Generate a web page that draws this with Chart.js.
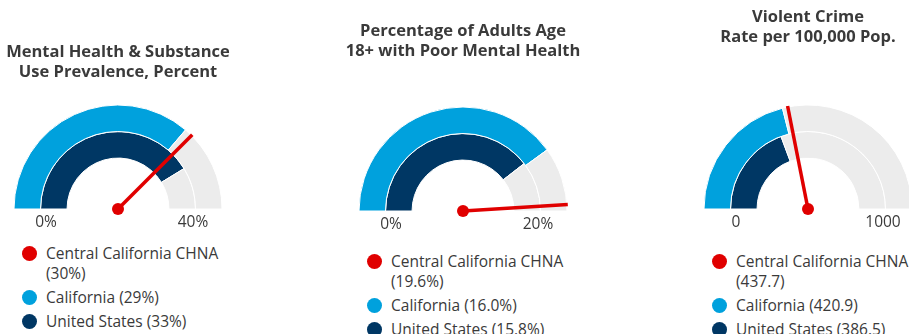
<!DOCTYPE html>
<html>
<head>
<meta charset="utf-8">
<title>Gauges</title>
<script src="https://cdn.jsdelivr.net/npm/chart.js@4.4.1/dist/chart.umd.min.js"></script>
<style>
  body { margin: 0; width: 909px; height: 334px; overflow: hidden; background: #fff; position: relative; font-family: "Open Sans", sans-serif; color: #3a3a3a; }
  .panel { position: absolute; top: 0; width: 300px; }
  .panel canvas { display: block; }
  .legend { position: absolute; left: 54px; width: 215px; margin: 0; padding: 0; list-style: none; font-size: 15.5px; line-height: 20px; }
  .legend li { position: relative; padding-left: 24px; margin-bottom: 4px; width: 180px; }
  .legend .dot { position: absolute; left: -0.5px; top: 2.5px; width: 15px; height: 15px; border-radius: 50%; }
</style>
</head>
<body>
<div class="panel" id="panel-0"><canvas id="gauge-0"></canvas><ul class="legend" id="legend-0"></ul></div>
<div class="panel" id="panel-1"><canvas id="gauge-1"></canvas><ul class="legend" id="legend-1"></ul></div>
<div class="panel" id="panel-2"><canvas id="gauge-2"></canvas><ul class="legend" id="legend-2"></ul></div>
<script>
/**
 * Data
 */
const titles = [
  ["Mental Health & Substance", "Use Prevalence, Percent"],
  ["Percentage of Adults Age", "18+ with Poor Mental Health"],
  ["Violent Crime", "Rate per 100,000 Pop."]
];
const seriesNames = ["Central California CHNA", "California", "United States"];
const gaugeMin = [0, 0, 0];
const gaugeMax = [40, 20, 1000];
const tickLabels = [["0%", "40%"], ["0%", "20%"], ["0", "1000"]];
const chnaValues = [30, 19.6, 437.7];
const californiaValues = [29, 16.0, 420.9];
const usValues = [33, 15.8, 386.5];
const valueSuffix = ["%", "%", ""];
const valueDecimals = [0, 1, 1];

const colors = {
  chna: "#e00000",
  california: "#00a1dd",
  us: "#003764",
  track: "#ececec"
};

// placement of each panel on the page (gauge centre + title/legend rows)
const panelLayout = [
  { centerX: 118, centerY: 209, titleY: 52, legendTop: 243 },
  { centerX: 463, centerY: 211, titleY: 31, legendTop: 251 },
  { centerX: 808, centerY: 209, titleY: 17, legendTop: 251 }
];

const CANVAS_W = 300;
const RADIUS = 104;
const TITLE_LINE = 20;

/**
 * Methods
 */
const fmt = (v, i) => v.toFixed(valueDecimals[i]) + valueSuffix[i];

// needle + min/max labels drawn on top of the rings
const needlePlugin = {
  id: 'needle',
  afterDatasetsDraw(chart, args, opts) {
    const arc = chart.getDatasetMeta(0).data[0];
    if (!arc) return;
    const { x, y, outerRadius } = arc;
    const ctx = chart.ctx;
    const frac = (opts.value - opts.min) / (opts.max - opts.min);
    const angle = Math.PI + frac * Math.PI;
    const len = outerRadius + 1;

    ctx.save();
    ctx.strokeStyle = colors.chna;
    ctx.lineWidth = 3.5;
    ctx.beginPath();
    ctx.moveTo(x, y);
    ctx.lineTo(x + Math.cos(angle) * len, y + Math.sin(angle) * len);
    ctx.stroke();
    ctx.fillStyle = colors.chna;
    ctx.beginPath();
    ctx.arc(x, y, 6, 0, Math.PI * 2);
    ctx.fill();

    ctx.fillStyle = '#3a3a3a';
    ctx.font = '15.5px "Open Sans", sans-serif';
    ctx.textAlign = 'center';
    ctx.textBaseline = 'middle';
    ctx.fillText(opts.ticks[0], x - 72, y + 14);
    ctx.fillText(opts.ticks[1], x + 75, y + 14);
    ctx.restore();
  }
};

const createGauge = (i) => {
  const lay = panelLayout[i];
  const panel = document.getElementById('panel-' + i);
  panel.style.left = (lay.centerX - CANVAS_W / 2) + 'px';

  const canvas = document.getElementById('gauge-' + i);
  canvas.width = CANVAS_W;
  canvas.height = lay.centerY + 26;
  canvas.style.width = CANVAS_W + 'px';
  canvas.style.height = canvas.height + 'px';

  const chartTop = lay.centerY - RADIUS;
  const padTop = lay.titleY - TITLE_LINE / 2;
  const padBottom = chartTop - padTop - TITLE_LINE * 2;
  const max = gaugeMax[i];

  new Chart(canvas.getContext('2d'), {
    type: 'doughnut',
    data: {
      labels: ['value', 'rest'],
      datasets: [
        {
          label: seriesNames[1],
          data: [californiaValues[i], max - californiaValues[i]],
          backgroundColor: [colors.california, colors.track],
          borderColor: '#ffffff',
          borderWidth: 1
        },
        {
          label: seriesNames[2],
          data: [usValues[i], max - usValues[i]],
          backgroundColor: [colors.us, colors.track],
          borderColor: '#ffffff',
          borderWidth: 1
        }
      ]
    },
    options: {
      responsive: false,
      animation: false,
      events: [],
      rotation: -90,
      circumference: 180,
      radius: RADIUS,
      cutout: '49%',
      layout: { padding: { left: 0, right: 0, top: 0, bottom: 26 } },
      plugins: {
        legend: { display: false },
        tooltip: { enabled: false },
        title: {
          display: true,
          text: titles[i],
          color: '#3a3a3a',
          font: { family: '"Open Sans", sans-serif', size: 16.5, weight: 'bold', lineHeight: TITLE_LINE / 16.5 },
          padding: { top: padTop, bottom: padBottom }
        },
        needle: {
          value: chnaValues[i],
          min: gaugeMin[i],
          max: max,
          ticks: tickLabels[i]
        }
      }
    },
    plugins: [needlePlugin]
  });

  // legend list under the gauge
  const legend = document.getElementById('legend-' + i);
  legend.style.top = lay.legendTop + 'px';
  const entries = [
    [seriesNames[0], chnaValues[i], colors.chna],
    [seriesNames[1], californiaValues[i], colors.california],
    [seriesNames[2], usValues[i], colors.us]
  ];
  legend.innerHTML = entries.map(([name, v, c]) =>
    `<li><span class="dot" style="background:${c}"></span>${name} (${fmt(v, i)})</li>`
  ).join('');
};

document.addEventListener("DOMContentLoaded", () => {
  [0, 1, 2].forEach(createGauge);
});
</script>
</body>
</html>
